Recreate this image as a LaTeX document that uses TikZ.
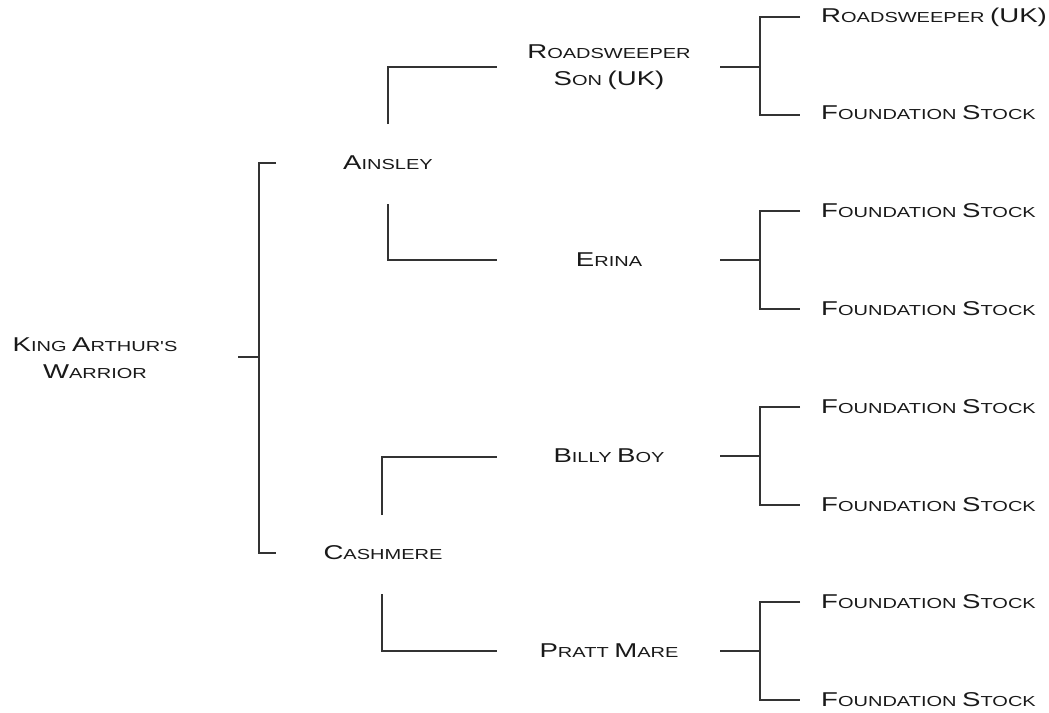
\documentclass[tikz,border=0pt]{standalone}
\usepackage{fontspec}
\newfontfamily\cpfont[FakeStretch=1.38]{Liberation Sans}
\newcommand\BC[1]{{\fontsize{20}{27}\selectfont #1}}
\tikzset{
  lbl/.style={font=\cpfont\fontsize{14.5}{27}\selectfont, text=black!90, inner sep=0pt, align=center},
  ln/.style={draw=black!80, line width=1.2pt},
}
\begin{document}
\begin{tikzpicture}[x=1pt,y=-1pt]
\useasboundingbox (0,0) rectangle (1049,712);
% nodes
\node[lbl] (root) at (95,358) {\BC{K}ING \BC{A}RTHUR'S\\\BC{W}ARRIOR};
\node[lbl] (ains) at (388,163) {\BC{A}INSLEY};
\node[lbl] (cash) at (383,553) {\BC{C}ASHMERE};
\node[lbl] (rss) at (609,67) {\BC{R}OADSWEEPER\\\BC{S}ON \BC{(UK)}};
\node[lbl] (erina) at (609,260) {\BC{E}RINA};
\node[lbl] (billy) at (609,456) {\BC{B}ILLY \BC{B}OY};
\node[lbl] (pratt) at (609,651) {\BC{P}RATT \BC{M}ARE};
\node[lbl, anchor=west] (l1) at (821,17) {\BC{R}OADSWEEPER \BC{(UK)}};
\node[lbl, anchor=west] (l2) at (821,113) {\BC{F}OUNDATION \BC{S}TOCK};
\node[lbl, anchor=west] (l3) at (821,211) {\BC{F}OUNDATION \BC{S}TOCK};
\node[lbl, anchor=west] (l4) at (821,309) {\BC{F}OUNDATION \BC{S}TOCK};
\node[lbl, anchor=west] (l5) at (821,407) {\BC{F}OUNDATION \BC{S}TOCK};
\node[lbl, anchor=west] (l6) at (821,505) {\BC{F}OUNDATION \BC{S}TOCK};
\node[lbl, anchor=west] (l7) at (821,602) {\BC{F}OUNDATION \BC{S}TOCK};
\node[lbl, anchor=west] (l8) at (821,700) {\BC{F}OUNDATION \BC{S}TOCK};
% coordinates
\coordinate (r0) at (238,357);
\coordinate (r1) at (259,357);
\coordinate (ra) at (276,163);
\coordinate (rc) at (276,553);
\coordinate (a1) at (388,124);
\coordinate (a2) at (388,204);
\coordinate (a3) at (497,67);
\coordinate (a4) at (497,260);
\coordinate (c1) at (382,515);
\coordinate (c2) at (382,594);
\coordinate (c3) at (497,457);
\coordinate (c4) at (497,651);
% root bracket
\draw[ln] (r0) -- (r1);
\draw[ln] (ra) -| (r1) |- (rc);
% Ainsley
\draw[ln] (a1) |- (a3);
\draw[ln] (a2) |- (a4);
% Cashmere
\draw[ln] (c1) |- (c3);
\draw[ln] (c2) |- (c4);
% right brackets
\foreach \y/\u/\d in {67/17/115, 260/211/309, 456/407/505, 651/602/700}{
  \draw[ln] (720,\y) -- (760,\y);
  \draw[ln] (800,\u) -| (760,\d) -- (800,\d);
}
\end{tikzpicture}
\end{document}
